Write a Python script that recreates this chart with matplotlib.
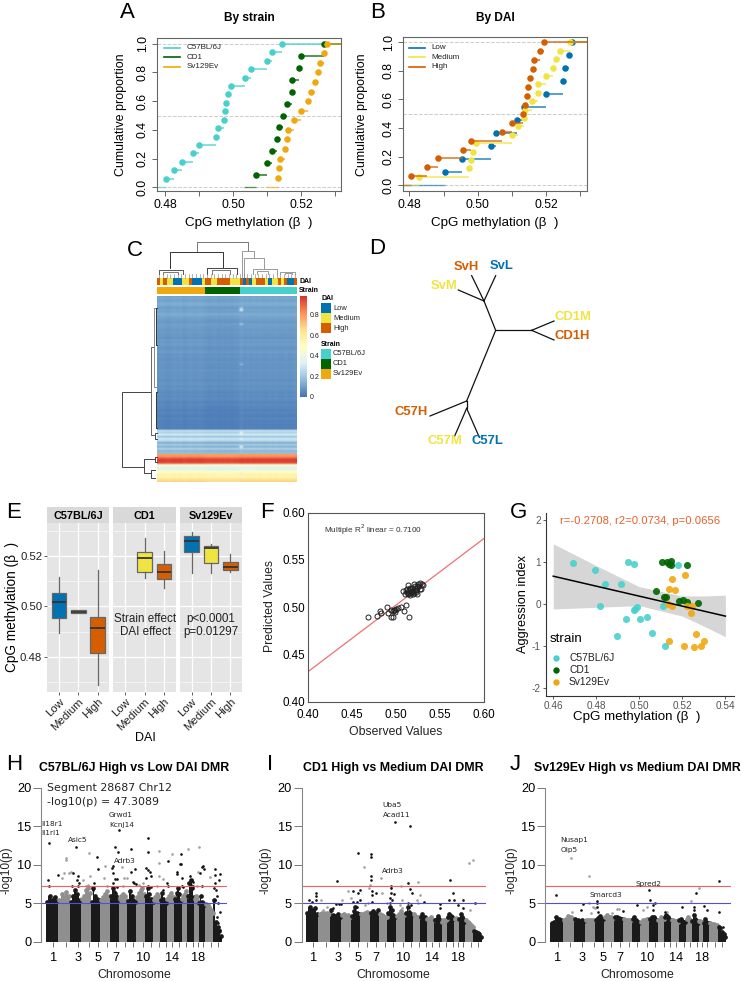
import matplotlib
matplotlib.use('Agg')
import matplotlib.pyplot as plt
import numpy as np
from matplotlib.colors import ListedColormap, LinearSegmentedColormap

plt.rcParams['font.family'] = ['Liberation Sans', 'DejaVu Sans']
plt.rcParams['axes.unicode_minus'] = False

W, H = 741, 981
TEAL, GREEN, AMBER = '#48D1CC', '#006400', '#F0A80F'
LOW, MED, HIGH = '#0072B2', '#F0E442', '#D55E00'
HEAT = LinearSegmentedColormap.from_list('heat', ['#4575B4', '#91BFDB', '#E0F3F8', '#FFFFBF', '#FEE090', '#FC8D59', '#D73027'])

# Panel A, ecdf x values by strain
a_c57 = [.4802, .4826, .4850, .4883, .4900, .4951, .4955, .4973, .4977, .4979, .4985, .4995, .5036, .5052, .5099, .5114, .5144]
a_cd1 = [.5068, .5100, .5116, .5130, .5136, .5146, .5160, .5174, .5175, .5194, .5200, .5269]
a_sv = [.5131, .5136, .5139, .5154, .5159, .5163, .5180, .5201, .5222, .5229, .5242, .5250, .5256, .5269, .5278]

# Panel B, ecdf x values by DAI
b_low = [.4903, .4953, .5038, .5053, .5116, .5134, .5200, .5250, .5256, .5268, .5277]
b_med = [.4827, .4974, .4979, .4986, .4996, .5099, .5117, .5136, .5137, .5160, .5175, .5177, .5199, .5221, .5230, .5242, .5269]
b_high = [.4804, .4852, .4884, .4957, .4980, .5070, .5100, .5132, .5138, .5144, .5146, .5154, .5161, .5164, .5181, .5193]

# Panel C
row_levels = [.10, .12, .10, .11, .13, .11, .09, .11, .10, .13, .11, .10, .09, .08, .10, .09, .09, .08, .09, .08,
              .08, .07, .09, .08, .09, .08, .07, .08, .09, .07, .08, .07, .07, .08, .07, .07, .07, .08, .07, .07,
              .07, .07, .06, .07, .07, .06, .07, .06, .05, .06, .05, .06, .05, .04, .05, .04, .04, .03, .04, .03,
              .03, .04, .03, .03, .03, .03, .03,
              .27, .23, .31, .19, .30, .25, .13, .21, .14, .23, .15, .17,
              .80, .84, .95, .98, .93, .44, .38, .33, .47, .52, .57, .55, .64, .68]
col_shift = [.00, .005, .00, -.005, .00, .005, .00, .005, -.005, .00, .005, .00, .00, .005, .00,
             -.005, -.01, -.005, -.005, -.01, -.005, -.01, -.005, -.01, -.005, -.005,
             .01, .00, .005, .00, .005, .00, .005, .00, .00, .005, .00, .005, .00, .00, .005, .00, .00, .005]
streak_rows = [6, 7, 14, 34, 75, 68, 71, 88, 90]
streak_vals = [.22, .34, .20, .16, .38, .36, .36, .58, .40]
dai_track = ['H', 'M', 'H', 'M', 'M', 'L', 'L', 'L', 'M', 'M', 'H', 'L', 'L', 'L', 'M',
             'H', 'H', 'M', 'M', 'H', 'H', 'H', 'H', 'M', 'M', 'M',
             'H', 'L', 'H', 'L', 'M', 'H', 'H', 'H', 'M', 'L', 'M', 'M', 'H', 'M', 'H', 'L', 'L', 'H']
strain_track = ['S'] * 15 + ['D'] * 11 + ['C'] * 18

# Panel D, tree branches and labels
tree_x = [[377, 342], [342, 265], [342, 305], [342, 377], [377, 485], [485, 552], [485, 552], [377, 290], [290, 180], [290, 290], [290, 254], [290, 328]]
tree_y = [[271, 183], [183, 150], [183, 107], [183, 107], [271, 271], [271, 243], [271, 300], [271, 483], [483, 528], [483, 505], [505, 588], [505, 592]]
tree_names = ['SvH', 'SvL', 'SvM', 'CD1M', 'CD1H', 'C57H', 'C57M', 'C57L']
tree_name_x = [288, 396, 222, 609, 606, 122, 225, 353]
tree_name_y = [80, 78, 137, 230, 287, 515, 604, 604]
tree_colors = [HIGH, LOW, MED, MED, HIGH, HIGH, MED, LOW]

# Panel E, whisker low, q1, median, q3, whisker high
box_days = ['Low', 'Medium', 'High']
box_c57 = [[.4895, .4952, .5016, .5052, .5115], [.4975, .4975, .4979, .4984, .4984], [.4689, .4813, .4913, .4959, .5144]]
box_cd1 = [None, [.5111, .5135, .5192, .5216, .5270], [.5074, .5107, .5136, .5168, .5220]]
box_sv = [[.5134, .5217, .5260, .5281, .5295], [.5134, .5171, .5230, .5241, .5246], [.5138, .5144, .5155, .5176, .5208]]

# Panel F
f_obs = [.468, .478, .481, .483, .489, .491, .4935, .4965, .4935, .4965, .4975, .499, .502, .505, .509, .5105, .5145, .498, .500,
         .508, .510, .511, .512, .513, .513, .514, .515, .516, .517, .518, .519, .520, .521, .521, .522, .523, .524, .525, .526, .527, .528, .529, .530,
         .512, .515, .518, .520, .524, .527, .513, .516, .519, .522]
f_pred = [.490, .491, .496, .4935, .5005, .4935, .490, .490, .4975, .4965, .497, .4975, .499, .500, .4965, .502, .490, .495, .498,
          .517, .514, .518, .516, .5135, .524, .518, .515, .519, .516, .520, .514, .525, .518, .522, .516, .5135, .520, .525, .522, .5255, .519, .525, .524,
          .519, .513, .517, .515, .522, .519, .5145, .520, .5165, .5185]
f_line_x = [.40, .60]
f_line_y = [.432, .573]

# Panel G
g_c57_x = [.4693, .4792, .4842, .4913, .4819, .4947, .4975, .4898, .4938, .5003, .5034, .4975, .4978, .4988, .506, .5118, .5108, .5178]
g_c57_y = [.99, .82, .48, .48, -.04, 1.01, .96, -.75, -.34, -.34, -.31, -.13, -.10, -.07, -.69, -1.0, -.05, .93]
g_cd1_x = [.5104, .5127, .5147, .5147, .5137, .5222, .5078, .5113, .5122, .5184, .5202, .5222, .5273]
g_cd1_y = [1.01, 1.01, 1.04, .93, .97, .94, .31, .18, .17, .09, .10, .06, .04]
g_sv_x = [.515, .5211, .5136, .5167, .5135, .5153, .5223, .5243, .5242, .5265, .5299, .5285, .5256, .5208, .5136]
g_sv_y = [.61, .70, .36, .35, .01, -.05, -.04, -.04, -.21, -.70, -.86, -1.0, -1.02, -.99, -.87]
g_line_x = [.46, .54]
g_line_y = [.67, -.28]
g_band_x = [.46, .48, .50, .52, .53, .54]
g_band_hi = [1.44, .92, .42, .20, .20, .22]
g_band_lo = [-.11, -.07, -.03, -.28, -.52, -.77]

# Manhattan panels
chr_widths = [37, 35, 32, 30, 28, 30, 27, 25, 26, 27, 25, 20, 20, 23, 22, 17, 21, 13, 19, 25, 25]
chr_ticks = [22, 59, 95, 130, 157, 182, 209, 237, 260, 290, 315, 340, 360, 377, 400, 420, 440, 456, 470, 495, 515]
chr_labels = {0: '1', 2: '3', 4: '5', 6: '7', 9: '10', 13: '14', 17: '18'}

h_env = [[5.2, 6.0, 5.5, 5.8, 5.3], [5.5, 6.2, 5.8, 6.5, 6.0], [5.2, 6.0, 6.8, 6.2, 5.5], [5.6, 6.0, 6.8, 7.0, 6.3],
         [5.2, 7.0, 6.0, 5.6, 5.4], [5.5, 5.8, 6.2, 6.6, 6.0], [6.0, 7.0, 6.5, 6.0, 5.5], [5.6, 6.0, 6.2, 6.0, 5.5],
         [5.3, 6.6, 6.0, 5.5, 5.2], [5.8, 6.3, 6.8, 7.0, 6.2], [6.0, 7.0, 6.2, 5.6, 5.2], [5.5, 5.8, 6.2, 6.0, 5.6],
         [5.4, 6.4, 5.6, 5.2, 5.0], [5.6, 6.0, 6.3, 5.8, 5.8], [5.6, 6.4, 7.0, 6.2, 5.4], [5.6, 6.0, 6.2, 6.6, 6.0],
         [6.0, 7.6, 8.0, 7.0, 5.8], [5.6, 6.0, 5.8, 5.5, 5.2], [5.0, 6.0, 5.2, 5.0, 4.8], [4.9, 4.8, 4.5, 4.2, 3.8],
         [5.5, 2.6, 2.0, 1.4, 0.8]]
i_env = [[3.8, 4.6, 4.2, 4.4, 3.6], [3.6, 3.8, 3.7, 3.8, 3.6], [4.2, 3.5, 3.4, 3.6, 3.3], [3.5, 3.6, 3.4, 3.5, 3.3],
         [3.4, 4.0, 4.5, 3.8, 3.6], [3.6, 3.6, 3.8, 3.9, 3.8], [3.8, 4.0, 3.8, 3.6, 4.2], [3.6, 3.5, 3.4, 3.3, 3.2],
         [3.8, 4.6, 4.2, 3.5, 3.3], [3.4, 3.6, 4.0, 3.6, 3.5], [3.8, 4.6, 3.9, 3.6, 3.5], [3.6, 3.4, 3.3, 3.2, 3.2],
         [3.2, 3.6, 3.3, 3.2, 3.0], [3.0, 3.0, 3.2, 3.0, 2.9], [2.8, 3.0, 3.4, 3.0, 2.6], [2.6, 2.9, 2.8, 2.8, 3.0],
         [3.2, 3.6, 3.4, 3.2, 3.0], [3.0, 3.1, 3.0, 3.0, 3.0], [3.0, 3.6, 3.2, 3.0, 2.6], [2.8, 2.6, 2.4, 2.2, 2.0],
         [1.4, 1.3, 1.2, 1.0, 0.6]]
j_env = [[2.5, 2.6, 3.2, 3.0, 2.9], [2.9, 3.0, 3.4, 3.2, 3.0], [3.0, 2.8, 2.7, 2.8, 2.7], [2.8, 2.9, 2.9, 2.8, 2.9],
         [2.9, 3.1, 3.4, 3.0, 3.0], [3.2, 3.5, 3.3, 3.2, 3.1], [3.3, 3.2, 3.1, 3.0, 3.0], [3.0, 2.9, 2.9, 2.8, 2.8],
         [3.0, 3.3, 2.8, 2.6, 2.4], [2.6, 2.8, 2.9, 3.0, 3.0], [3.0, 3.3, 3.2, 3.0, 2.8], [2.8, 2.9, 3.2, 3.0, 3.0],
         [3.2, 3.5, 3.2, 3.0, 2.8], [2.8, 2.8, 2.7, 2.7, 2.6], [2.8, 3.0, 2.7, 2.6, 2.6], [3.0, 3.2, 3.0, 2.8, 2.7],
         [2.7, 3.5, 3.0, 2.7, 2.5], [2.7, 2.7, 2.6, 2.6, 2.6], [2.5, 3.0, 2.6, 2.5, 2.4], [2.4, 2.3, 2.3, 2.2, 2.2],
         [2.0, 1.8, 1.3, 1.0, 0.6]]

h_black_x = [10, 7, 10, 37, 80, 91, 95, 94, 98, 77, 97, 152, 156, 144, 140, 208, 220, 217, 202, 198, 200, 207, 212, 202, 212, 210,
             256, 254, 267, 261, 265, 269, 306, 306, 301, 306, 312, 315, 300, 307, 314, 366, 364, 365, 352,
             404, 402, 405, 392, 394, 407, 407, 412, 432, 437, 442, 434, 440, 462, 467, 472, 474, 467,
             507, 522, 507, 520, 507, 505, 510, 512, 507, 517, 522, 512, 517, 522, 522]
h_black_y = [12.8, 8.0, 7.2, 8.7, 9.0, 12.3, 8.6, 8.0, 7.7, 7.2, 7.2, 11.05, 9.5, 7.6, 6.7, 12.25, 14.55, 11.7, 9.8, 9.6, 9.0, 8.1, 8.1, 7.6, 7.1, 6.3,
             12.1, 9.1, 9.5, 7.8, 7.6, 7.5, 13.5, 11.6, 9.6, 9.3, 9.1, 8.6, 8.25, 7.25, 7.1, 10.5, 7.7, 7.2, 6.7,
             11.45, 10.1, 10.1, 9.1, 8.8, 8.3, 7.2, 7.1, 8.5, 8.0, 7.8, 7.4, 7.2, 9.0, 9.7, 9.85, 9.5, 7.2,
             9.5, 8.8, 8.65, 8.0, 7.6, 7.0, 6.7, 5.9, 5.4, 5.0, 3.9, 3.3, 2.4, 1.6, 0.5]
h_gray_x = [59, 59, 54, 70, 74, 47, 130, 132, 112, 120, 127, 176, 174, 184, 228, 234, 242, 230, 280, 292, 340, 340, 340, 352, 332, 379, 427, 459, 457, 452, 492]
h_gray_y = [10.6, 10.9, 8.9, 8.9, 9.1, 8.25, 11.5, 8.5, 8.0, 7.2, 7.4, 9.85, 8.3, 7.2, 9.7, 8.3, 8.3, 7.2, 7.4, 7.6, 11.8, 10.3, 8.6, 8.2, 7.2, 11.35, 12.1, 12.3, 9.1, 7.2, 8.4]

i_black_x = [266, 312, 156, 195, 195, 196, 196, 93, 197, 209, 140, 162, 157, 152, 142, 162, 154, 255, 255, 307, 312, 318, 254, 264, 252, 257, 251,
             432, 442, 430, 445, 470, 457, 472, 506, 30, 30, 9, 17, 29, 89, 105, 99, 82, 355, 402, 402, 197, 197, 307, 315]
i_black_y = [15.6, 15.0, 11.5, 11.4, 11.05, 8.55, 8.0, 7.95, 6.55, 6.3, 6.55, 6.7, 6.3, 5.2, 5.2, 5.4, 4.6, 7.3, 7.0, 7.7, 6.9, 6.3, 6.3, 6.2, 5.7, 5.4, 5.0,
             8.0, 6.3, 5.4, 5.4, 5.4, 4.8, 4.4, 5.0, 6.4, 5.9, 5.4, 5.2, 5.4, 4.9, 4.9, 4.9, 4.4, 5.2, 4.9, 4.4, 6.1, 5.2, 5.0, 4.8]
i_gray_x = [175, 489, 500, 225, 337, 284, 192, 189, 125, 134, 227, 287, 342, 332, 337, 44, 52, 62, 107, 177, 187, 242, 282, 287, 492]
i_gray_y = [9.7, 10.3, 10.6, 8.3, 7.8, 7.2, 7.4, 7.0, 6.6, 5.7, 6.3, 5.4, 6.1, 5.4, 5.0, 5.5, 4.1, 4.6, 5.4, 4.8, 5.1, 5.0, 4.8, 4.4, 4.1]

j_black_x = [16, 506, 436, 297, 299, 140, 140, 140, 99, 92, 142, 314, 309, 308, 260, 395, 431, 431, 461, 469, 506, 217, 344, 519]
j_black_y = [6.1, 7.9, 6.3, 6.75, 5.45, 5.35, 5.1, 4.6, 4.9, 4.15, 3.9, 5.1, 4.8, 4.15, 4.75, 4.5, 4.6, 4.15, 4.7, 4.1, 3.9, 4.05, 3.9, 2.0]
j_gray_x = [62, 116, 446, 422, 115, 129, 134, 289, 279, 64, 199, 207, 121, 184, 349]
j_gray_y = [10.9, 8.6, 7.0, 5.35, 5.1, 4.5, 4.4, 4.6, 4.15, 3.9, 4.3, 4.3, 3.7, 3.8, 3.9]


def px_axes(x0, y0, x1, y1, **kw):
    return fig.add_axes([x0 / W, 1 - y1 / H, (x1 - x0) / W, (y1 - y0) / H], **kw)


fig = plt.figure(figsize=(W / 100, H / 100), dpi=100)
# overlay in picture pixels for letters and free labels
ov = px_axes(0, 0, W, H, zorder=20)
ov.set_xlim(0, W)
ov.set_ylim(H, 0)
ov.axis('off')
ov.patch.set_alpha(0)

for s, x, y in [('A', 120, 12), ('B', 370, 12), ('C', 127, 250), ('D', 369, 248), ('E', 6, 513), ('F', 260, 512),
                ('G', 510, 513), ('H', 6, 764), ('I', 267, 764), ('J', 510, 764)]:
    ov.text(x, y, s, fontsize=16, va='center', ha='left')


def ecdf_panel(box, series, title, tx, xlim, ylim):
    ax = px_axes(*box)
    ax.axhline(0, color='#cccccc', lw=0.7, ls='--')
    ax.axhline(0.5, color='#cccccc', lw=0.7, ls='--')
    ax.axhline(1, color='#cccccc', lw=0.7, ls='--')
    for vals, col in series:
        n = len(vals)
        ys = np.arange(1, n + 1) / n
        ends = vals[1:] + [xlim[1]]
        ax.hlines(ys, vals, ends, color=col, lw=1.1, alpha=0.85)
        ax.hlines(0, xlim[0] if col in (TEAL, LOW, MED, HIGH) else vals[0] - .0035, vals[0], color=col, lw=1.0, alpha=0.6)
        ax.plot(vals, ys, 'o', color=col, ms=4.7, mew=0)
    ax.set_xlim(xlim)
    ax.set_ylim(ylim)
    ax.set_xticks([.48, .49, .50, .51, .52, .53])
    ax.set_xticklabels(['0.48', '', '0.50', '', '0.52', ''], fontsize=8.8)
    ax.set_yticks([0, .2, .4, .6, .8, 1])
    ax.set_yticklabels(['0.0', '0.2', '0.4', '0.6', '0.8', '1.0'], fontsize=8.8, rotation=90, va='center')
    ax.tick_params(color='#666666', length=3.5, width=0.7, pad=2.5)
    for sp in ax.spines.values():
        sp.set_color('#666666')
        sp.set_linewidth(0.8)
    ov.text(tx, 18, title, fontsize=8.6, fontweight='bold', ha='center', va='center')
    ov.text(tx, 223, 'CpG methylation (β  )', fontsize=9.6, ha='center', va='center')
    return ax


ecdf_panel((157, 38, 341, 191), [(a_c57, TEAL), (a_cd1, GREEN), (a_sv, AMBER)], 'By strain', 249, (.4776, .5318), (-.026, 1.04))
ecdf_panel((403, 37, 587, 191), [(b_low, LOW), (b_med, MED), (b_high, HIGH)], 'By DAI', 495, (.4781, .5320), (-.04, 1.037))
ov.text(121, 115, 'Cumulative proportion', fontsize=9, rotation=90, ha='center', va='center')
ov.text(362, 115, 'Cumulative proportion', fontsize=9, rotation=90, ha='center', va='center')

for names, cols, lx, tx in [(['C57BL/6J', 'CD1', 'Sv129Ev'], [TEAL, GREEN, AMBER], (164, 180), 186.5),
                            (['Low', 'Medium', 'High'], [LOW, MED, HIGH], (409, 425), 431.5)]:
    for nm, c, y in zip(names, cols, [47.7, 57.3, 67]):
        ov.plot(lx, [y, y], color=c, lw=1.2)
        ov.text(tx, y, nm, fontsize=5.8, va='center', color='#222222')

# Panel C heatmap
mat = np.add.outer(np.array(row_levels), np.array(col_shift))
mat[streak_rows, 26] = streak_vals
mat = np.clip(mat, 0, 1)
ax = px_axes(157.3, 295.7, 296.7, 481.7)
ax.imshow(mat, aspect='auto', cmap=HEAT, vmin=0, vmax=1, interpolation='bilinear')
ax.axis('off')

ax = px_axes(157.3, 278.3, 296.7, 285)
dai_cm = ListedColormap([LOW, MED, HIGH])
ax.imshow([[{'L': 0, 'M': 1, 'H': 2}[d] for d in dai_track]], aspect='auto', cmap=dai_cm, vmin=0, vmax=2, interpolation='nearest')
ax.axis('off')
ax = px_axes(157.3, 286.7, 296.7, 293.7)
str_cm = ListedColormap([AMBER, GREEN, TEAL])
ax.imshow([[{'S': 0, 'D': 1, 'C': 2}[d] for d in strain_track]], aspect='auto', cmap=str_cm, vmin=0, vmax=2, interpolation='nearest')
ax.axis('off')

ov.text(299, 281.5, 'DAI', fontsize=5, fontweight='bold', va='center')
ov.text(299, 290, 'Strain', fontsize=5, fontweight='bold', va='center')

ax = px_axes(300, 295.7, 306.7, 397.3)
ax.imshow(np.linspace(1, 0, 100).reshape(-1, 1), aspect='auto', cmap=HEAT, vmin=0, vmax=1)
ax.axis('off')
for lab, zy in [('0.8', 242), ('0.6', 303), ('0.4', 365), ('0.2', 427), ('0', 487)]:
    ov.text(310, 235 + zy / 3, lab, fontsize=5, va='center', color='#222222')

ov.text(321, 298.3, 'DAI', fontsize=5, fontweight='bold', va='center')
ov.text(321, 344, 'Strain', fontsize=5, fontweight='bold', va='center')
for y, c, t in [(303, LOW, 'Low'), (313, MED, 'Medium'), (323.3, HIGH, 'High'), (348.7, TEAL, 'C57BL/6J'), (358.7, GREEN, 'CD1'), (368.7, AMBER, 'Sv129Ev')]:
    ov.fill_between([321, 331], y, y + 10, color=c, lw=0)
    ov.text(333, y + 5, t, fontsize=5.4, va='center', color='#222222')

# dendrograms, picture coordinates of the zoom
top_tree = [([230, 230, 385, 385], [50, 20, 20, 47], '#777777'), ([151, 151, 310, 310], [100, 50, 50, 100], '#333333'),
            ([365, 365, 403, 403], [125, 47, 47, 70], '#999999'), ([373, 373, 433, 433], [125, 70, 70, 100], '#999999'),
            ([118, 118, 190, 190], [118, 106, 106, 118], '#555555'), ([130, 130, 175, 175], [118, 110, 110, 118], '#777777'),
            ([262, 262, 352, 352], [118, 100, 100, 118], '#444444'), ([275, 275, 330, 330], [118, 104, 104, 118], '#777777'),
            ([400, 400, 470, 470], [118, 103, 103, 118], '#999999'), ([410, 410, 445, 445], [118, 109, 109, 118], '#999999'),
            ([480, 480, 525, 525], [118, 110, 110, 118], '#999999'), ([495, 495, 515, 515], [118, 113, 113, 118], '#999999')]
for xs, ys, c in top_tree:
    ov.plot([120 + v / 3 for v in xs], [235 + v / 3 for v in ys], color=c, lw=0.7)
for zx in range(118, 530, 11):
    ov.plot([120 + zx / 3] * 2, [235 + 118 / 3, 235 + 128 / 3], color='#777777', lw=0.4)
left_tree = [([93, 5, 5, 73], [472, 472, 695, 695], '#444444'), ([103, 93, 93, 105], [337, 337, 600, 600], '#666666'),
             ([105, 73, 73, 92], [672, 672, 715, 715], '#444444'), ([105, 92, 92, 105], [705, 705, 730, 730], '#444444'),
             ([109, 103, 103, 109], [220, 220, 455, 455], '#888888'), ([112, 108, 108, 112], [220, 220, 330, 330], '#333333'),
             ([112, 108, 108, 112], [470, 470, 580, 580], '#333333'), ([112, 105, 105, 112], [595, 595, 612, 612], '#444444'),
             ([112, 105, 105, 112], [665, 665, 682, 682], '#444444')]
for xs, ys, c in left_tree:
    ov.plot([120 + v / 3 for v in xs], [235 + v / 3 for v in ys], color=c, lw=0.7)

# Panel D
for xs, ys in zip(tree_x, tree_y):
    ov.plot([370 + v / 3 for v in xs], [240 + v / 3 for v in ys], color='#111111', lw=0.9)
for nm, x, y, c in zip(tree_names, tree_name_x, tree_name_y, tree_colors):
    ov.text(370 + x / 3, 240 + y / 3, nm, color=c, fontsize=9.4, fontweight='bold', ha='center', va='center')

# Panel E boxes
ylim_e = (.4661, .5331)
for i, (x0, x1, name, data) in enumerate([(47.3, 109.3, 'C57BL/6J', box_c57), (113.3, 175.7, 'CD1', box_cd1), (180, 242, 'Sv129Ev', box_sv)]):
    ax = px_axes(x0, 523, x1, 691.7)
    ax.set_facecolor('#E5E5E5')
    ax.set_axisbelow(True)
    ax.set_yticks([.47, .49, .51, .53], minor=True)
    ax.grid(True, which='major', color='white', lw=0.9)
    ax.grid(True, which='minor', axis='y', color='white', lw=0.4)
    stats = []
    pos = []
    for j, row in enumerate(data):
        if row is None:
            continue
        stats.append(dict(whislo=row[0], q1=row[1], med=row[2], q3=row[3], whishi=row[4], fliers=[]))
        pos.append(j)
    arts = ax.bxp(stats, positions=pos, widths=0.75, patch_artist=True, showcaps=False, showfliers=False,
                  medianprops=dict(color='#333333', lw=1.3), whiskerprops=dict(color='#666666', lw=0.9),
                  boxprops=dict(edgecolor='#666666', lw=0.9))
    for b, j in zip(arts['boxes'], pos):
        b.set_facecolor([LOW, MED, HIGH][j])
    ax.set_xlim(-.6, 2.6)
    ax.set_ylim(ylim_e)
    ax.set_xticks([0, 1, 2])
    ax.set_xticklabels(box_days, rotation=45, ha='right', rotation_mode='anchor', fontsize=8.2, color='#222222')
    ax.set_yticks([.48, .50, .52])
    if i == 0:
        ax.set_yticklabels(['0.48', '0.50', '0.52'], fontsize=8.2, color='#222222')
    else:
        ax.tick_params(axis='y', which='both', left=False, labelleft=False)
    ax.tick_params(axis='y', which='minor', left=False)
    ax.tick_params(axis='both', which='major', color='#444444', length=2.2, width=0.6, pad=1.5)
    for sp in ax.spines.values():
        sp.set_visible(False)
    st = px_axes(x0, 507, x1, 523)
    st.set_facecolor('#D9D9D9')
    st.set_xticks([])
    st.set_yticks([])
    for sp in st.spines.values():
        sp.set_visible(False)
    st.text(.5, .45, name, transform=st.transAxes, ha='center', va='center', fontsize=7.8, fontweight='bold')
ov.text(145, 619, 'Strain effect', fontsize=8.4, ha='center', va='center', color='#222222')
ov.text(145, 632, 'DAI effect', fontsize=8.4, ha='center', va='center', color='#222222')
ov.text(211, 619, 'p<0.0001', fontsize=8.4, ha='center', va='center', color='#222222')
ov.text(211, 632, 'p=0.01297', fontsize=8.4, ha='center', va='center', color='#222222')
ov.text(12, 607, 'CpG methylation (β  )', fontsize=9.8, rotation=90, ha='center', va='center')
ov.text(145, 738, 'DAI', fontsize=9, ha='center', va='center')

# Panel F
ax = px_axes(308.3, 512.7, 484.3, 701.7)
ax.plot(f_line_x, f_line_y, color='#F07070', lw=0.9)
ax.plot(f_obs, f_pred, 'o', mfc='none', mec='#222222', mew=0.7, ms=3.6)
ax.set_xlim(.40, .60)
ax.set_ylim(.40, .60)
ax.set_xticks([.40, .45, .50, .55, .60])
ax.set_yticks([.40, .45, .50, .55, .60])
ax.set_xticklabels(['0.40', '0.45', '0.50', '0.55', '0.60'], fontsize=8.4)
ax.set_yticklabels(['0.40', '0.45', '0.50', '0.55', '0.60'], fontsize=8.4)
ax.tick_params(axis='x', length=0, pad=5)
ax.tick_params(axis='y', length=0, pad=2.5)
for sp in ax.spines.values():
    sp.set_color('#555555')
    sp.set_linewidth(0.8)
ov.text(323.5, 529.5, 'Multiple R$^2$ linear = 0.7100', fontsize=5.9, va='center', color='#333333')
ov.text(396, 732, 'Observed Values', fontsize=8.8, ha='center', va='center', color='#222222')
ov.text(270, 606, 'Predicted Values', fontsize=8.8, rotation=90, ha='center', va='center', color='#222222')

# Panel G
ax = px_axes(545.7, 512.7, 734, 696)
ax.fill_between(g_band_x, g_band_lo, g_band_hi, color='#999999', alpha=0.4, lw=0)
ax.plot(g_line_x, g_line_y, color='black', lw=1.1, zorder=4)
ax.scatter(g_c57_x, g_c57_y, s=26, color=TEAL, lw=0, alpha=0.9, zorder=3)
ax.scatter(g_cd1_x, g_cd1_y, s=26, color=GREEN, lw=0, alpha=0.9, zorder=3)
ax.scatter(g_sv_x, g_sv_y, s=26, color=AMBER, lw=0, alpha=0.9, zorder=3)
ax.set_xlim(.4565, .544)
ax.set_ylim(-2.18, 2.18)
ax.set_xticks([.46, .48, .50, .52, .54])
ax.set_xticklabels(['0.46', '0.48', '0.50', '0.52', '0.54'], fontsize=7.2, color='#555555')
ax.set_yticks([-2, -1, 0, 1, 2])
ax.set_yticklabels(['-2', '-1', '0', '1', '2'], fontsize=7.2, color='#555555')
ax.tick_params(color='#444444', length=2, width=0.6, pad=1.5)
ax.spines['top'].set_visible(False)
ax.spines['right'].set_visible(False)
ax.spines['left'].set_color('#333333')
ax.spines['bottom'].set_color('#333333')
ov.text(640, 521, 'r=-0.2708, r2=0.0734, p=0.0656', fontsize=8.1, color='#E8602C', ha='center', va='center')
ov.text(550, 639, 'strain', fontsize=9.6, va='center')
for y, c, t in [(658.3, TEAL, 'C57BL/6J'), (670.3, GREEN, 'CD1'), (682.3, AMBER, 'Sv129Ev')]:
    ov.plot([555.7], [y], 'o', color=c, ms=4.6, mew=0)
    ov.text(569, y, t, fontsize=7.4, va='center', color='#222222')
ov.text(637, 717, 'CpG methylation (β  )', fontsize=9.6, ha='center', va='center')
ov.text(523, 604, 'Aggression index', fontsize=9.2, rotation=90, ha='center', va='center')


def manhattan(x0, x1, xlim, env, bx, by, gx, gy, title, tx, ylab_x):
    ax = px_axes(x0, 772, x1, 942)
    ax.patch.set_alpha(0)
    start = 0
    for k, w in enumerate(chr_widths):
        col = '#1a1a1a' if k % 2 == 0 else '#8f8f8f'
        bw = w / len(env[k])
        xs = start + bw * (np.arange(len(env[k])) + .5)
        ax.bar(xs, env[k], width=bw, color=col, lw=0)
        ax.plot(xs, env[k], 'o', color=col, ms=3.4, mew=0)
        start += w
    ax.plot(gx, gy, 'o', color='#a0a0a0', ms=1.9, mew=0)
    ax.plot(bx, by, 'o', color='#111111', ms=1.9, mew=0)
    ax.axhline(7.3, color='#F06060', lw=0.8)
    ax.axhline(5, color='#5050E0', lw=0.8)
    ax.set_xlim(xlim)
    ax.set_ylim(0, 22.03)
    ax.set_yticks([0, 5, 10, 15, 20])
    ax.set_yticklabels(['0', '5', '10', '15', '20'], fontsize=9.2)
    ax.set_xticks(chr_ticks)
    ax.set_xticklabels([chr_labels.get(k, '') for k in range(len(chr_ticks))], fontsize=9.2)
    ax.tick_params(axis='y', color='#777777', length=5.5, width=0.7, pad=1.5)
    ax.tick_params(axis='x', color='#555555', length=3.5, width=0.6, pad=4)
    for sp in ['top', 'right', 'bottom']:
        ax.spines[sp].set_visible(False)
    ax.spines['left'].set_color('#888888')
    ax.spines['left'].set_bounds(0, 20)
    ov.text(tx, 767.7, title, fontsize=8.9, fontweight='bold', ha='center', va='center')
    ov.text(tx, 975, 'Chromosome', fontsize=8.8, ha='center', va='center', color='#222222')
    ov.text(ylab_x, 870, '-log10(p)', fontsize=8.6, rotation=90, ha='center', va='center', color='#222222')


manhattan(41.3, 226.7, (-14, 542), h_env, h_black_x, h_black_y, h_gray_x, h_gray_y, 'C57BL/6J High vs Low DAI DMR', 134, 7)
manhattan(301.7, 485.7, (-13, 539), i_env, i_black_x, i_black_y, i_gray_x, i_gray_y, 'CD1 High vs Medium DAI DMR', 393, 266)
manhattan(545.3, 730.7, (-15, 541), j_env, j_black_x, j_black_y, j_gray_x, j_gray_y, 'Sv129Ev High vs Medium DAI DMR', 637.5, 511)

for s, x, y in [('Il18r1', 41.7, 824), ('Il1rl1', 41.7, 833.3), ('Asic5', 68, 840), ('Grwd1', 109, 814.7), ('Kcnj14', 109, 824.7),
                ('Adrb3', 114, 860.7), ('Uba5', 382.7, 804.7), ('Acad11', 382.7, 814.7), ('Adrb3', 381.7, 870.7),
                ('Nusap1', 560.7, 840), ('Oip5', 560.7, 850), ('Smarcd3', 589, 895), ('Spred2', 635.7, 884.3)]:
    ov.text(x, y, s, family='DejaVu Sans', fontsize=5.3, va='center', color='#222222')
ov.text(46.7, 788, 'Segment 28687 Chr12', family='DejaVu Sans', fontsize=7.9, va='center', color='#222222')
ov.text(46.7, 801.7, '-log10(p) = 47.3089', family='DejaVu Sans', fontsize=7.9, va='center', color='#222222')

fig.savefig('out.png', dpi=100)
